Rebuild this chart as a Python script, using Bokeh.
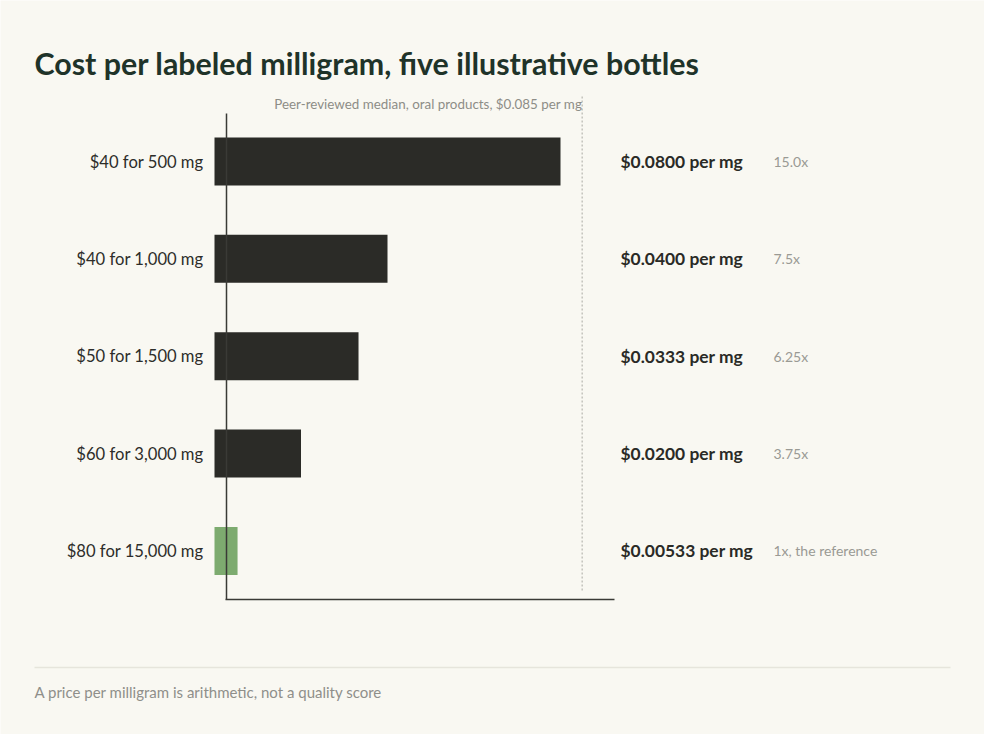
from bokeh.plotting import figure
from bokeh.models import Range1d, ColumnDataSource
from bokeh.core.properties import value
from bokeh.embed import file_html
from bokeh.resources import INLINE

# dados
rotulos = ["$40 for 500 mg", "$40 for 1,000 mg", "$50 for 1,500 mg", "$60 for 3,000 mg", "$80 for 15,000 mg"]
custo_por_mg = [0.0800, 0.0400, 0.0333, 0.0200, 0.00533]
textos_custo = ["$0.0800 per mg", "$0.0400 per mg", "$0.0333 per mg", "$0.0200 per mg", "$0.00533 per mg"]
multiplos = ["15.0x", "7.5x", "6.25x", "3.75x", "1x, the reference"]
mediana = 0.085

titulo = "Cost per labeled milligram, five illustrative bottles"
nota_mediana = "Peer-reviewed median, oral products, $0.085 per mg"
rodape = "A price per milligram is arithmetic, not a quality score"

fundo = "#f9f8f2"
cor_barra = "#2b2b27"
cor_destaque = "#7dab6f"
fonte = "Lato"

# escala: pixel do canvas onde fica o zero, pixels por $/mg, espaco entre linhas
W, H = 984, 734
X0, XS = 214, 4325.0
Y0, YS = 161, 97.35

def fx(px):
    return (px - 8 - X0) / XS

def fy(py):
    return (py - 8 - Y0) / YS

idx = list(range(len(rotulos)))
cores = [cor_barra] * (len(rotulos) - 1) + [cor_destaque]
dados = ColumnDataSource(data=dict(y=idx, custo=custo_por_mg, rotulo=rotulos, texto=textos_custo,
                                   mult=multiplos, cor=cores))

p = figure(width=W, height=H, output_backend="svg", toolbar_location=None, tools="",
           x_range=Range1d(-X0 / XS, (W - X0) / XS), y_range=Range1d((H - Y0) / YS, -Y0 / YS),
           min_border=0, x_axis_type=None, y_axis_type=None)
p.background_fill_color = fundo
p.border_fill_color = fundo
p.outline_line_color = None
p.grid.visible = False

p.hbar(y="y", left=0, right="custo", height=48 / YS, source=dados, fill_color="cor", line_color=None)

# eixos desenhados
p.segment(x0=[fx(234)], y0=[fy(121)], x1=[fx(234)], y1=[fy(607)], line_color="#3a3a36", line_width=1.5)
p.segment(x0=[fx(233)], y0=[fy(607)], x1=[fx(622)], y1=[fy(607)], line_color="#3a3a36", line_width=1.5)

# linha da mediana
p.segment(x0=[mediana], y0=[fy(104)], x1=[mediana], y1=[fy(599)], line_color="#a8a8a2", line_width=1,
          line_dash="2 2")
p.text(x=[mediana], y=[fy(111)], text=[nota_mediana], text_align="right", text_baseline="middle",
       text_font=value(fonte), text_font_size="13.4px", text_color="#8d8d87")

p.text(x=fx(211), y="y", text="rotulo", source=dados, text_align="right", text_baseline="middle",
       text_font=value(fonte), text_font_size="16.6px", text_color="#2d2d2a")
p.text(x=fx(628), y="y", text="texto", source=dados, text_align="left", text_baseline="middle",
       text_font=value(fonte), text_font_size="17.4px", text_font_style="bold", text_color="#2a2a26")
p.text(x=fx(781), y="y", text="mult", source=dados, text_align="left", text_baseline="middle",
       text_font=value(fonte), text_font_size="14px", text_color="#9a9a94")

# titulo e rodape
p.text(x=[fx(42)], y=[fy(70)], text=[titulo], text_align="left", text_baseline="alphabetic",
       text_font=value(fonte), text_font_size="30.4px", text_font_style="bold", text_color="#1f3329")
p.segment(x0=[fx(42)], y0=[fy(675)], x1=[fx(958)], y1=[fy(675)], line_color="#e6e5dc", line_width=1.5)
p.text(x=[fx(42)], y=[fy(699)], text=[rodape], text_align="left", text_baseline="middle",
       text_font=value(fonte), text_font_size="15px", text_color="#8f8f8a")

open("out.html", "w").write(file_html(p, INLINE))
